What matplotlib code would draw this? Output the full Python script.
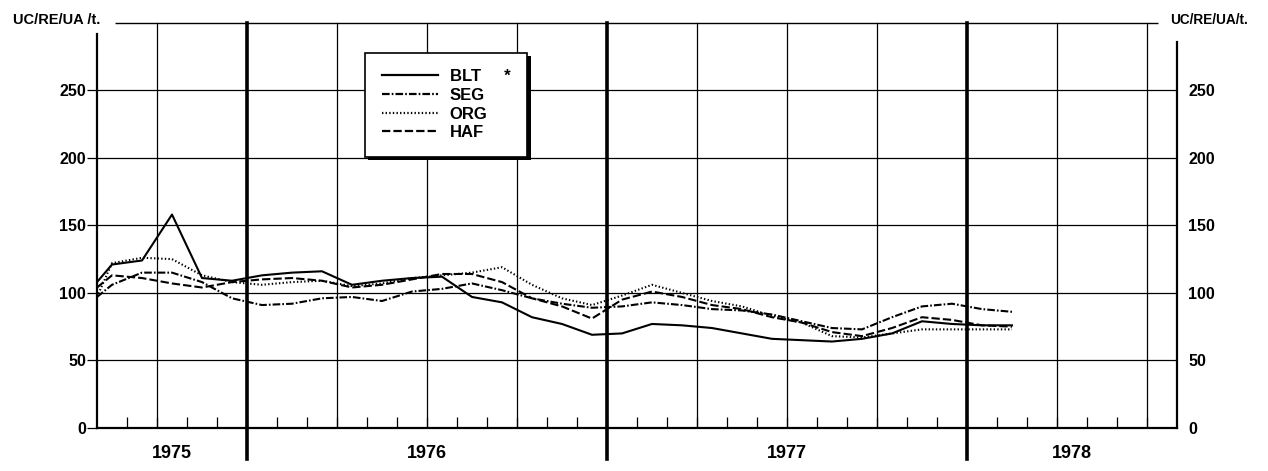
import matplotlib; matplotlib.use("Agg")
import matplotlib.pyplot as plt
import matplotlib.patheffects as pe
from matplotlib.lines import Line2D

plt.rcParams.update({"font.family": ["Liberation Sans", "DejaVu Sans"], "font.weight": "bold",
                     "lines.scale_dashes": False})

# months counted from Jan 1975 (x=0); first point = axis start, then mid-month values
months = [7.0] + [7.5 + k for k in range(31)]
blt = [108, 121, 124, 158, 111, 109, 113, 115, 116, 106, 109, 111, 112, 97, 93, 82,
       77, 69, 70, 77, 76, 74, 70, 66, 65, 64, 66, 70, 79, 77, 76, 76]
seg = [97, 106, 115, 115, 108, 96, 91, 92, 96, 97, 94, 101, 103, 107, 102, 96,
       92, 89, 90, 93, 91, 88, 87, 84, 79, 74, 73, 82, 90, 92, 88, 86]
org = [97, 122, 126, 125, 113, 108, 106, 108, 109, 105, 107, 111, 113, 115, 119, 106,
       96, 91, 98, 106, 100, 94, 90, 83, 78, 68, 67, 70, 73, 73, 73, 73]
haf = [104, 113, 111, 107, 104, 108, 110, 111, 109, 104, 106, 110, 114, 114, 108, 96,
       90, 81, 95, 101, 97, 91, 88, 82, 78, 71, 68, 74, 82, 80, 76, 75]

labels = ["BLT", "SEG", "ORG", "HAF"]
styles = ["-", (0, (5.5, 1.5, 1.2, 1.5)), (0, (1.0, 1.6)), (0, (6, 2.2))]
series = [blt, seg, org, haf]
yticks = [0, 50, 100, 150, 200, 250]
years = [1975, 1976, 1977, 1978]

XMIN, XMAX = 7, 43
fig = plt.figure(figsize=(12.68, 4.71), dpi=100)
ax = fig.add_axes([97/1268, 1-428/471, 1080/1268, 408/471])
ax.set_xlim(XMIN, XMAX); ax.set_ylim(0, 302)

# grid: horizontal lines, quarter lines, thick year boundaries
for v in yticks[1:]:
    ax.axhline(v, color="k", lw=0.9, zorder=1)
ax.hlines(300, XMIN + 0.6, XMAX - 0.65, color="k", lw=1.0, clip_on=False, zorder=1)
for m in range(XMIN + 1, XMAX):
    if m % 12 == 0:
        ax.axvline(m, ymin=-0.075, ymax=300/302, color="k", lw=2.6, clip_on=False, zorder=2)
    elif m % 3 == 0:
        ax.axvline(m, ymax=300/302, color="k", lw=0.9, zorder=1)
ax.set_xticks(range(XMIN + 1, XMAX))
ax.set_xticklabels([])
ax.tick_params(axis="x", direction="in", length=8, width=0.9)

for y, ls in zip(series, styles):
    ax.plot(months, y, color="k", lw=1.5, linestyle=ls, zorder=3)

ax.spines["top"].set_visible(False)
ax.spines["left"].set_bounds(0, 292); ax.spines["right"].set_bounds(0, 286)
for s in ["left", "right", "bottom"]:
    ax.spines[s].set_linewidth(1.6)
ax.set_yticks(yticks)
ax.set_yticklabels([str(v) for v in yticks], fontsize=11.5, fontweight="bold")
ax.tick_params(axis="y", length=7, width=0.9, pad=1, labelright=True, right=False, labelsize=11.5)
for t in ax.yaxis.get_major_ticks():
    t.label2.set_fontweight("bold")

year_mid = [(XMIN + 12) / 2, 18, 30, (36 + XMAX) / 2]
for yr, xm in zip(years, year_mid):
    ax.text(xm, -0.062, str(yr), transform=ax.get_xaxis_transform(), ha="center", va="center",
            fontsize=13, fontweight="bold")

fig.text(13/1268, 1-20/471, "UC/RE/UA /t.", ha="left", va="center", fontsize=10.5, fontweight="bold")
fig.text(1170/1268, 1-20/471, "UC/RE/UA/t.", ha="left", va="center", fontsize=9.8, fontweight="bold")

handles = [Line2D([], [], color="k", lw=1.6, linestyle=ls) for ls in styles]
shown = [labels[0] + "\u00a0" * 5 + "*"] + labels[1:]   # asterisk note on BLT
leg = ax.legend(handles, shown, loc="upper left", bbox_to_anchor=(0.248, 0.92),
                fontsize=12, handlelength=3.4, handletextpad=0.7, labelspacing=0.22,
                borderpad=1.0, fancybox=False, framealpha=1, edgecolor="k", borderaxespad=0)
leg.get_frame().set_linewidth(1.2)
leg.get_frame().set_path_effects([pe.SimplePatchShadow(offset=(2.5, -2.5), shadow_rgbFace="k", alpha=1),
                                  pe.Normal()])
leg.set_zorder(5)

fig.savefig("out.png", dpi=100)
